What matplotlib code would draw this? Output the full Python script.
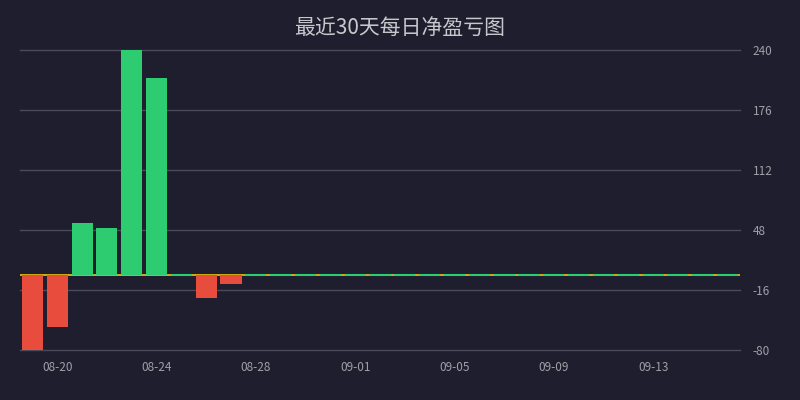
import matplotlib
matplotlib.use("Agg")
import matplotlib.pyplot as plt

plt.rcParams['font.family'] = ['Noto Sans CJK SC', 'DejaVu Sans']

dates = ["08-19", "08-20", "08-21", "08-22", "08-23", "08-24", "08-25", "08-26",
         "08-27", "08-28", "08-29", "08-30", "08-31", "09-01", "09-02", "09-03",
         "09-04", "09-05", "09-06", "09-07", "09-08", "09-09", "09-10", "09-11",
         "09-12", "09-13", "09-14", "09-15", "09-16"]
pnl = [-80, -55, 55, 50, 240, 210, 0, -25, -10, 0, 0, 0, 0, 0, 0, 0,
       0, 0, 0, 0, 0, 0, 0, 0, 0, 0, 0, 0, 0]
y_ticks = [-80, -16, 48, 112, 176, 240]
title = "最近30天每日净盈亏图"

bg = "#1e1e2e"
green = "#2ecc71"
red = "#e74c3c"
bar_w = 0.85

fig = plt.figure(figsize=(8, 4), dpi=100, facecolor=bg)
ax = fig.add_axes([0.025, 0.125, 0.9, 0.75], facecolor=bg)

colors = [green if v >= 0 else red for v in pnl]
x = list(range(len(dates)))
ax.axhline(0, color="#f1c40f", linewidth=1.2, zorder=2)
ax.bar(x, pnl, width=bar_w, color=colors, linewidth=0, zorder=3)

# days with no profit/loss still show a thin green sliver on the zero line
zero_x = [i for i, v in zip(x, pnl) if v == 0]
ax.hlines([0] * len(zero_x), [i - bar_w / 2 for i in zero_x], [i + bar_w / 2 for i in zero_x],
          color=green, linewidth=1.5, zorder=4)

ax.set_xlim(-0.5, len(dates) - 0.5)
ax.set_ylim(y_ticks[0], y_ticks[-1])
ax.set_yticks(y_ticks)
ax.yaxis.tick_right()
ax.tick_params(axis='y', length=0, pad=9, labelsize=8.5, labelcolor="#a0a0a8")
ax.set_yticklabels([str(t) for t in y_ticks])
for lbl in ax.get_yticklabels():
    lbl.set_horizontalalignment('left')

tick_idx = x[1::4]
ax.set_xticks(tick_idx)
ax.set_xticklabels([dates[i] for i in tick_idx])
ax.tick_params(axis='x', length=0, pad=8, labelsize=8.5, labelcolor="#a0a0a8")

ax.grid(axis='y', color="#4a4a58", linewidth=1, zorder=1)
ax.set_axisbelow(True)
for gl in ax.get_ygridlines():
    gl.set_clip_on(False)
for s in ax.spines.values():
    s.set_visible(False)

fig.text(0.5, 0.93, title, ha='center', va='center', fontsize=15, color="#c8c8cc")

fig.savefig("out.png", facecolor=bg)
